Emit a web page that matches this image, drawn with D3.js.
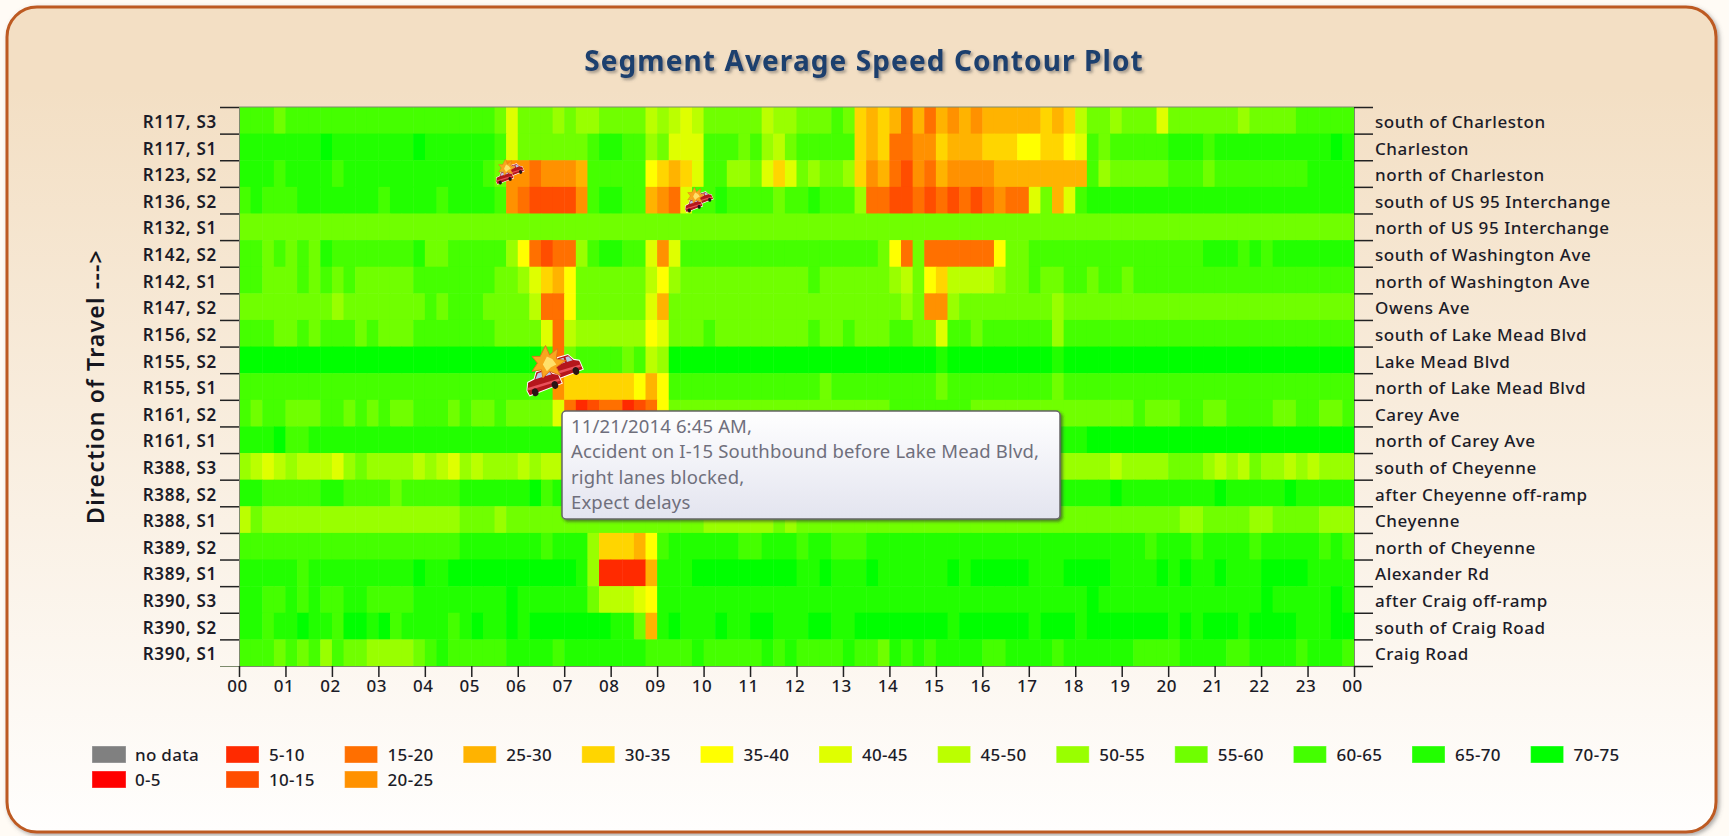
<!DOCTYPE html>
<html>
<head>
<meta charset="utf-8">
<title>Segment Average Speed Contour Plot</title>
<script src="https://cdn.jsdelivr.net/npm/d3@7"></script>
<style>
  html, body { margin: 0; padding: 0; background: #fffbf5; }
  svg { display: block; }
  text { font-family: "Noto Sans", sans-serif; }
  .axis text { fill: #1c1c28; font-size: 17px; font-weight: 500; letter-spacing: 0.55px; }
  .axis.left text { font-weight: 600; letter-spacing: 0.75px; }
  .axis .domain { stroke: #7c8a6c; }
  .axis line { stroke: #222; stroke-width: 1.5; }
</style>
</head>
<body>
<div id="vis"></div>
<script>
const segments = ["R117, S3", "R117, S1", "R123, S2", "R136, S2", "R132, S1", "R142, S2", "R142, S1",
  "R147, S2", "R156, S2", "R155, S2", "R155, S1", "R161, S2", "R161, S1", "R388, S3", "R388, S2",
  "R388, S1", "R389, S2", "R389, S1", "R390, S3", "R390, S2", "R390, S1"];

const locations = ["south of Charleston", "Charleston", "north of Charleston", "south of US 95 Interchange",
  "north of US 95 Interchange", "south of Washington Ave", "north of Washington Ave", "Owens Ave",
  "south of Lake Mead Blvd", "Lake Mead Blvd", "north of Lake Mead Blvd", "Carey Ave", "north of Carey Ave",
  "south of Cheyenne", "after Cheyenne off-ramp", "Cheyenne", "north of Cheyenne", "Alexander Rd",
  "after Craig off-ramp", "south of Craig Road", "Craig Road"];

const hourLabels = ["00", "01", "02", "03", "04", "05", "06", "07", "08", "09", "10", "11", "12",
  "13", "14", "15", "16", "17", "18", "19", "20", "21", "22", "23", "00"];

const speedBands = ["0-5", "5-10", "10-15", "15-20", "20-25", "25-30", "30-35", "35-40",
  "40-45", "45-50", "50-55", "55-60", "60-65", "65-70", "70-75"];
const bandColors = ["#ff0000", "#ff2a00", "#ff4d00", "#ff6f00", "#ff9100", "#ffb300", "#ffd500", "#ffff00",
  "#dfff00", "#bbff00", "#99ff00", "#6fff00", "#44ff00", "#22ff00", "#00ff00"];

const legendTop = ["no data", "5-10", "15-20", "25-30", "30-35", "35-40", "40-45", "45-50", "50-55",
  "55-60", "60-65", "65-70", "70-75"];
const legendBottom = ["0-5", "10-15", "20-25"];

// one string per segment, 4 readings an hour, each char is an index into speedBands (hex)
const speedRows = [
  "cccb cccc cccc cccc cccc ccb8 bbba baab bbb9 a989 bbbb b9aa bbbc b656 5353 5454 5555 5656 9bba bbb8 bbbb bbab bbbc cccc",
  "dddd ddde dddd ddde dddd ddc8 bbbb bbcd dcca b888 cccb ca9b cccc c656 3344 6555 6667 7667 8cbc cccc dddc dddd dddd dded",
  "dddc dddd cddd dddd dddd dcb4 4344 45cc ccc7 6568 ccaa b868 babb a645 3243 5444 4555 5555 5cab bbbb cccb cccc cccc dddd",
  "cdcc cddd dddd cddd dcdd ddc4 3222 24cd dcc5 438c cdcc ccbc cdcc ca33 2232 3232 3433 8b58 cddd dddd dddd dddd dddd dddd",
  "bbbb bbbb bbbb bbbb bbbb bbbb bbbb bbbb bbbb bbbb bbbb bbbb bbbb bbbb bbbb bbbb bbbb bbbb bbbb bbbb bbbb bbbb bbbb bbbb",
  "ccbc bcbd cccc cccd bbcc ccca 7323 3acd dcc8 48cc cccc cccc cccc cccb 73b3 3333 37bb cccc cccc cccc cccd ddcd cddd dddd",
  "ccbb bcbc bcbb bbbc cccc ccbb a865 7bbb bbb9 7abb bbbb bbbb bcbb bbbb a9b7 6999 9abb cbbc cbcc bccc cccc cccc cccc cccc",
  "bbbb bbbb abbb bbbb cbcc cbbb b933 7bbb bbb8 5bbb bbbb bbbb bbbb bbbb bab4 4abb bbbb bbab bbbb bbbb bbbb bbbb bbbb bbbb",
  "cccb bcbc ccbc bbbc cccc ccbb bb83 9aaa aaa7 8bbb cbbb bbbb bcbb cbbb ccbb 8ccb cccc ccac cccc cccc cccc cccc cccc cccc",
  "eeee eeee eeee eeee eeee eeee eec3 bccc cbc9 aeee eeee eeee eeee eeee eeee deee eeee eede eeee eeee eeee eeee eeee eeee",
  "cccc cccc cccc cccc cccc cccc ccc4 6666 6675 7ccc cccc cccc ccbc cccc cccc bccc cccc ccbc cccc cccc cccc cccc cccc cccc",
  "cbcc bbbc cbcb cbbc ccbc bbcb bbb8 3123 3123 7bbb bbbb bbbb bbbb bbbb cccc cccb bbbb bbbb bbbb bcbb bccb bccc cbbc cbbc",
  "ddde ccdd dddd dddd dddd dddd dddd dddd dddd dddd dddd dddd dddd dddd dddd dddd dddd dddd deee eeee eeee eeee eeee eeee",
  "a989 a999 8aba aaa9 a98a 9aaa 9a99 aaaa aaaa aaaa aaaa aaaa aaaa aaaa aaaa aaaa aaaa aaaa aaa9 aaaa bbba 9a9b aa9a 9aaa",
  "ddcc cccd dccc cbcc cccd dddd decd dddd dddd dddd dddd dddd dddd dddd dddd dddd dddd dddd ddde dddd dddd eddd dded dddd",
  "9baa aaaa aaaa aaaa aaab bbab bbbb bbbb bbbb bbbb aaaa aaba bbbb bbbb bbbb bbbb bbbb bbbb bbbb bbbb baab bbba abbb baaa",
  "cccc cccc cccc cccc cccd dddd ddcd dda6 6657 cddd dddc cddd cddc ccdd dddd dddd dddd dddd dddd ddcd ddcd dddc dddd dcdc",
  "dddd dcdd dddd ddde ddee eeee eeee eda1 1115 ddde eeee eeee dded dded dddd dede eeee ddde eeed ddde dedd eddd eeee dddd",
  "ddcc dcdc cddc cccd dddd ddde dddd ddb9 9987 dddd dddd dddd dddd dddd dddd dddd dddd dddd dedd dddd dddd dddd eddd dded",
  "ddcd dedd ceed ecdd ddcd edde deee eeee ddb5 dedd dedd eedd deed deee eeee edee eeee deee deee eeee dede eede eeed ddee",
  "cccb cbca cbba aaab cdcc cccd dddc dddd dddc cccd cccc cdcd cccc dccb dcdc dddd ccdd ddcd dddd dccc cddd dccd dddc dddc"
];

// crash icons: hour of day, position in rows, size
const incidentHours = [5.81, 9.88, 6.75];
const incidentRows = [2.48, 3.53, 10.0];
const incidentSizes = [0.5, 0.5, 1];

const tooltipLines = ["11/21/2014 6:45 AM,", "Accident on I-15 Southbound before Lake Mead Blvd,",
  "right lanes blocked,", "Expect delays"];

const W = 1729, H = 836;
const plot = { left: 239, right: 1354, top: 107, bottom: 666 };

const svg = d3.select("#vis").append("svg").attr("width", W).attr("height", H);
const defs = svg.append("defs");

const panelGrad = defs.append("linearGradient").attr("id", "panelGrad")
  .attr("x1", 0).attr("y1", 0).attr("x2", 0).attr("y2", 1);
panelGrad.append("stop").attr("offset", "0.1").attr("stop-color", "#f3dfc4");
panelGrad.append("stop").attr("offset", "1").attr("stop-color", "#fffefd");

const tipGrad = defs.append("linearGradient").attr("id", "tipGrad")
  .attr("x1", 0).attr("y1", 0).attr("x2", 0).attr("y2", 1);
tipGrad.append("stop").attr("offset", "0").attr("stop-color", "#ffffff");
tipGrad.append("stop").attr("offset", "1").attr("stop-color", "#e3e4ef");

const shadow = defs.append("filter").attr("id", "shadow")
  .attr("x", "-5%").attr("y", "-5%").attr("width", "110%").attr("height", "115%");
shadow.append("feDropShadow").attr("dx", 2).attr("dy", 2).attr("stdDeviation", 1.6)
  .attr("flood-color", "#333").attr("flood-opacity", 0.6);

const panelShadow = defs.append("filter").attr("id", "panelShadow")
  .attr("x", "-2%").attr("y", "-2%").attr("width", "104%").attr("height", "104%");
panelShadow.append("feDropShadow").attr("dx", 2).attr("dy", 2).attr("stdDeviation", 2)
  .attr("flood-color", "#555").attr("flood-opacity", 0.5);

const titleShadow = defs.append("filter").attr("id", "titleShadow")
  .attr("x", "-5%").attr("y", "-20%").attr("width", "110%").attr("height", "150%");
titleShadow.append("feDropShadow").attr("dx", 2).attr("dy", 2).attr("stdDeviation", 1.5)
  .attr("flood-color", "#555").attr("flood-opacity", 0.55);

const soften = defs.append("filter").attr("id", "soften");
soften.append("feGaussianBlur").attr("stdDeviation", 0.6);

defs.append("clipPath").attr("id", "plotClip").append("rect")
  .attr("x", plot.left).attr("y", plot.top)
  .attr("width", plot.right - plot.left).attr("height", plot.bottom - plot.top);

svg.append("rect")
  .attr("x", 7).attr("y", 7).attr("width", 1709).attr("height", 825).attr("rx", 30)
  .attr("fill", "url(#panelGrad)").attr("stroke", "#bd5a20").attr("stroke-width", 3)
  .attr("filter", "url(#panelShadow)");

svg.append("text")
  .attr("x", 864).attr("y", 71).attr("text-anchor", "middle")
  .attr("font-size", 28).attr("font-weight", 700).attr("letter-spacing", 1.1)
  .attr("fill", "#1f3f6e").attr("filter", "url(#titleShadow)")
  .text("Segment Average Speed Contour Plot");

// scales
const x = d3.scaleLinear().domain([0, 24]).range([plot.left, plot.right]);
const y = d3.scaleBand().domain(segments).range([plot.top, plot.bottom]);
const yRight = d3.scaleBand().domain(locations).range([plot.top, plot.bottom]);
const yEdge = d3.scaleLinear().domain([0, segments.length]).range([plot.top, plot.bottom]);
const color = d3.scaleOrdinal(["no data"].concat(speedBands), ["#808080"].concat(bandColors));

const cells = speedRows.flatMap((row, r) =>
  Array.from(row.replace(/ /g, "")).map((ch, i) => ({
    segment: segments[r],
    hour: i / 4,
    band: speedBands[parseInt(ch, 16)]
  })));

svg.append("g")
  .attr("clip-path", "url(#plotClip)")
  .append("g")
  .attr("filter", "url(#soften)")
  .selectAll("rect")
  .data(cells)
  .join("rect")
  .attr("x", d => x(d.hour))
  .attr("y", d => y(d.segment))
  .attr("width", x(0.25) - x(0) + 0.5)
  .attr("height", y.bandwidth() + 0.5)
  .attr("fill", d => color(d.band));

// left axis: ticks on the row edges, labels in the row middle
svg.append("g").attr("class", "axis")
  .attr("transform", `translate(${plot.left},0)`)
  .call(d3.axisLeft(yEdge).tickValues(d3.range(segments.length)).tickSize(19).tickFormat(""));
svg.append("g").attr("class", "axis left")
  .attr("transform", `translate(${plot.left},0)`)
  .call(d3.axisLeft(y).tickSize(0).tickPadding(22))
  .call(g => g.select(".domain").remove())
  .call(g => g.selectAll("text").attr("dy", "0.45em"));

svg.append("g").attr("class", "axis")
  .attr("transform", `translate(${plot.right},0)`)
  .call(d3.axisRight(yEdge).tickValues(d3.range(segments.length + 1)).tickSize(19).tickFormat(""));
svg.append("g").attr("class", "axis")
  .attr("transform", `translate(${plot.right},0)`)
  .call(d3.axisRight(yRight).tickSize(0).tickPadding(21))
  .call(g => g.select(".domain").remove())
  .call(g => g.selectAll("text").attr("dy", "0.45em"));

svg.append("g").attr("class", "axis")
  .attr("transform", `translate(0,${plot.bottom})`)
  .call(d3.axisBottom(x).tickValues(d3.range(25)).tickSize(11).tickPadding(3)
    .tickFormat(d => hourLabels[d]))
  .call(g => g.selectAll("text").attr("dx", "-2"));

svg.append("line")
  .attr("x1", plot.left).attr("x2", plot.right).attr("y1", plot.top).attr("y2", plot.top)
  .attr("stroke", "#7c8a6c");

svg.append("text")
  .attr("transform", `translate(104,${(plot.top + plot.bottom) / 2}) rotate(-90)`)
  .attr("text-anchor", "middle")
  .attr("font-size", 23).attr("font-weight", 600).attr("letter-spacing", 1.2).attr("fill", "#16161e")
  .text("Direction of Travel --->");

// legend
function legendRow(labels, top) {
  const g = svg.append("g").selectAll("g").data(labels).join("g")
    .attr("transform", (d, i) => `translate(${i === 0 ? 92 : 226 + (i - 1) * 118.6},${top})`);
  g.append("rect")
    .attr("width", d => d === "no data" || d === "0-5" ? 34 : 33).attr("height", 17)
    .attr("fill", d => color(d))
    .attr("stroke", "#fff").attr("stroke-opacity", 0.35);
  g.append("text")
    .attr("x", 43).attr("y", 15)
    .attr("font-size", 17).attr("font-weight", 500).attr("letter-spacing", 0.3).attr("fill", "#1c1c28")
    .text(d => d);
}
legendRow(legendTop, 746);
legendRow(legendBottom, 771);

// crash icon, drawn at roughly 50px wide for size 1
function drawCar(g, tx, ty) {
  const c = g.append("g").attr("transform", `translate(${tx},${ty}) rotate(-17) scale(1,1.25)`);
  c.append("path")
    .attr("d", "M-17,3 L-14,-3 L-7,-4 L-3,-9 L8,-9 L12,-4 L17,-2 L18,5 L-16,7 Z")
    .attr("fill", "#b5161c").attr("stroke", "#fff").attr("stroke-width", 1.8).attr("paint-order", "stroke");
  c.append("path").attr("d", "M-6,-4 L-2,-8 L3,-8 L3,-4 Z").attr("fill", "#b9c4e6");
  c.append("path").attr("d", "M5,-4 L5,-8 L8,-8 L11,-4 Z").attr("fill", "#b9c4e6");
  c.append("rect").attr("x", -16).attr("y", 1).attr("width", 33).attr("height", 2).attr("fill", "#e8505a");
  c.append("circle").attr("cx", -10).attr("cy", 6).attr("r", 3.2).attr("fill", "#2a1416");
  c.append("circle").attr("cx", 11).attr("cy", 5).attr("r", 3.2).attr("fill", "#2a1416");
}

const incidents = incidentHours.map((h, i) => ({ hour: h, row: incidentRows[i], size: incidentSizes[i] }));
const icons = svg.append("g").selectAll("g").data(incidents).join("g")
  .attr("transform", d => `translate(${x(d.hour)},${yEdge(d.row)}) scale(${d.size})`);
icons.each(function () {
  const g = d3.select(this);
  drawCar(g, 11, -5);
  drawCar(g, -10, 9);
  const star = g.append("g").attr("transform", "translate(-3,-6) scale(1.35)");
  star.append("path")
    .attr("d", "M-3,-16 L0,-9 L6,-14 L5,-6 L12,-5 L5,0 L8,6 L0,3 L-5,8 L-6,2 L-13,3 L-9,-3 L-13,-8 L-7,-8 Z")
    .attr("fill", "#f9a51e").attr("stroke", "#e2711a").attr("stroke-width", 0.7);
  star.append("path").attr("d", "M-2,-8 L2,-6 L5,-2 L1,0 L-2,3 L-5,-2 Z").attr("fill", "#ffe06a");
});

// tooltip
const tip = svg.append("g").attr("transform", "translate(562,411)");
tip.append("rect")
  .attr("width", 498).attr("height", 108).attr("rx", 4)
  .attr("fill", "url(#tipGrad)").attr("stroke", "#666").attr("stroke-width", 1.5)
  .attr("filter", "url(#shadow)");
tip.selectAll("text").data(tooltipLines).join("text")
  .attr("x", 9).attr("y", (d, i) => 22 + i * 25.4)
  .attr("font-size", 18.5).attr("letter-spacing", 0.15).attr("fill", "#6f6f7c")
  .text(d => d);
</script>
</body>
</html>
